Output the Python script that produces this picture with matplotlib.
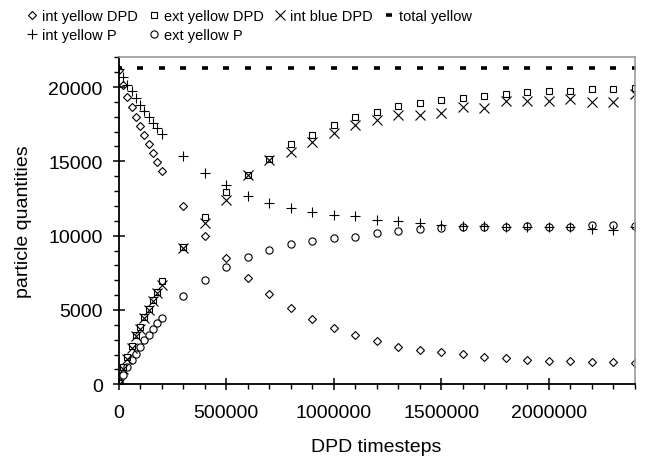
import matplotlib
matplotlib.use("Agg")
import matplotlib.pyplot as plt
from matplotlib.ticker import MultipleLocator

plt.rcParams['font.family'] = ['Liberation Sans', 'DejaVu Sans']

# DPD timesteps: dense sampling up to 200000, then every 100000
timesteps = [0, 20000, 40000, 60000, 80000, 100000, 120000, 140000, 160000, 180000, 200000,
             300000, 400000, 500000, 600000, 700000, 800000, 900000, 1000000, 1100000,
             1200000, 1300000, 1400000, 1500000, 1600000, 1700000, 1800000, 1900000,
             2000000, 2100000, 2200000, 2300000, 2400000]

int_yellow_dpd = [21150, 20160, 19350, 18640, 17970, 17400, 16780, 16170, 15570, 14980, 14330,
                  12020, 10000, 8480, 7130, 6080, 5100, 4420, 3810, 3340,
                  2910, 2530, 2310, 2150, 2020, 1840, 1750, 1635,
                  1550, 1550, 1480, 1480, 1410]
ext_yellow_dpd = [100, 1150, 1850, 2600, 3350, 3850, 4500, 5070, 5670, 6230, 6930,
                  9250, 11240, 12920, 14100, 15150, 16150, 16800, 17450, 17950,
                  18300, 18700, 18950, 19100, 19250, 19400, 19550, 19650,
                  19750, 19750, 19850, 19850, 19900]
int_blue_dpd = [0, 1000, 1700, 2450, 3250, 3750, 4450, 5000, 5600, 6150, 6700,
                9150, 10850, 12400, 14050, 15100, 15650, 16280, 16900, 17450,
                17790, 18120, 18120, 18260, 18680, 18590, 19080, 19080,
                19080, 19200, 18980, 18980, 19500]
int_yellow_p = [21200, 20650, 20150, 19700, 19250, 18800, 18400, 18000, 17600, 17250, 16850,
                15340, 14200, 13430, 12690, 12220, 11840, 11590, 11400, 11300,
                11070, 10990, 10830, 10720, 10650, 10620, 10600, 10600,
                10580, 10550, 10450, 10400, 10550]
ext_yellow_p = [150, 600, 1140, 1610, 2030, 2510, 2960, 3350, 3720, 4130, 4480,
                5960, 7040, 7870, 8540, 9050, 9420, 9640, 9820, 9920,
                10180, 10300, 10450, 10540, 10560, 10600, 10600, 10620,
                10600, 10600, 10720, 10720, 10650]

total_steps = [0, 100000, 200000, 300000, 400000, 500000, 600000, 700000, 800000,
               900000, 1000000, 1100000, 1200000, 1300000, 1400000, 1500000, 1600000,
               1700000, 1800000, 1900000, 2000000, 2100000, 2200000, 2300000, 2400000]
total_yellow = [21250] * len(total_steps)

fig = plt.figure(figsize=(6.5, 4.64), dpi=100)
ax = fig.add_axes([0.1825, 0.1696, 0.7938, 0.7048])

kw = dict(linestyle='none', color='black', markerfacecolor='none', markeredgewidth=0.8)
h1, = ax.plot(timesteps, int_yellow_dpd, marker='D', markersize=4, label='int yellow DPD', **kw)
h2, = ax.plot(timesteps, ext_yellow_dpd, marker='s', markersize=5, label='ext yellow DPD', **kw)
h3, = ax.plot(timesteps, int_blue_dpd, marker='x', markersize=6.5, label='int blue DPD', **kw)
h4, = ax.plot(total_steps, total_yellow, marker='_', markersize=4.5, markeredgewidth=2.6,
              linestyle='none', color='black', label='total yellow')
h5, = ax.plot(timesteps, int_yellow_p, marker='+', markersize=7.5, label='int yellow P', **kw)
h6, = ax.plot(timesteps, ext_yellow_p, marker='o', markersize=5.2, label='ext yellow P', **kw)

ax.set_xlim(0, 2400000)
ax.set_ylim(0, 22000)
ax.xaxis.set_major_locator(MultipleLocator(500000))
ax.xaxis.set_minor_locator(MultipleLocator(100000))
ax.yaxis.set_major_locator(MultipleLocator(5000))
ax.yaxis.set_minor_locator(MultipleLocator(1000))
ax.ticklabel_format(axis='both', style='plain', useOffset=False)
ax.tick_params(which='major', direction='inout', length=9, width=1.1, labelsize=14)
ax.tick_params(which='minor', direction='out', length=3.5, width=1.0)
ax.tick_params(axis='x', which='major', pad=10)
ax.tick_params(axis='y', which='major', pad=7)

for s in ('left', 'bottom'):
    ax.spines[s].set_linewidth(1.3)
for s in ('top', 'right'):
    ax.spines[s].set_color('#999999')
    ax.spines[s].set_linewidth(1.2)

ax.set_xlabel('DPD timesteps', fontsize=14, labelpad=12)
ax.set_ylabel('particle quantities', fontsize=14, labelpad=12)

# column-major order so rows read: DPD series + total on top, P series below
fig.legend(handles=[h1, h5, h2, h6, h3, h4], ncol=4, loc='upper left',
           bbox_to_anchor=(0.04, 0.978), frameon=False, fontsize=10.5,
           handlelength=0.8, handletextpad=0.3, columnspacing=0.7,
           labelspacing=0.35, borderpad=0, borderaxespad=0)

fig.savefig('out.png', dpi=100)
